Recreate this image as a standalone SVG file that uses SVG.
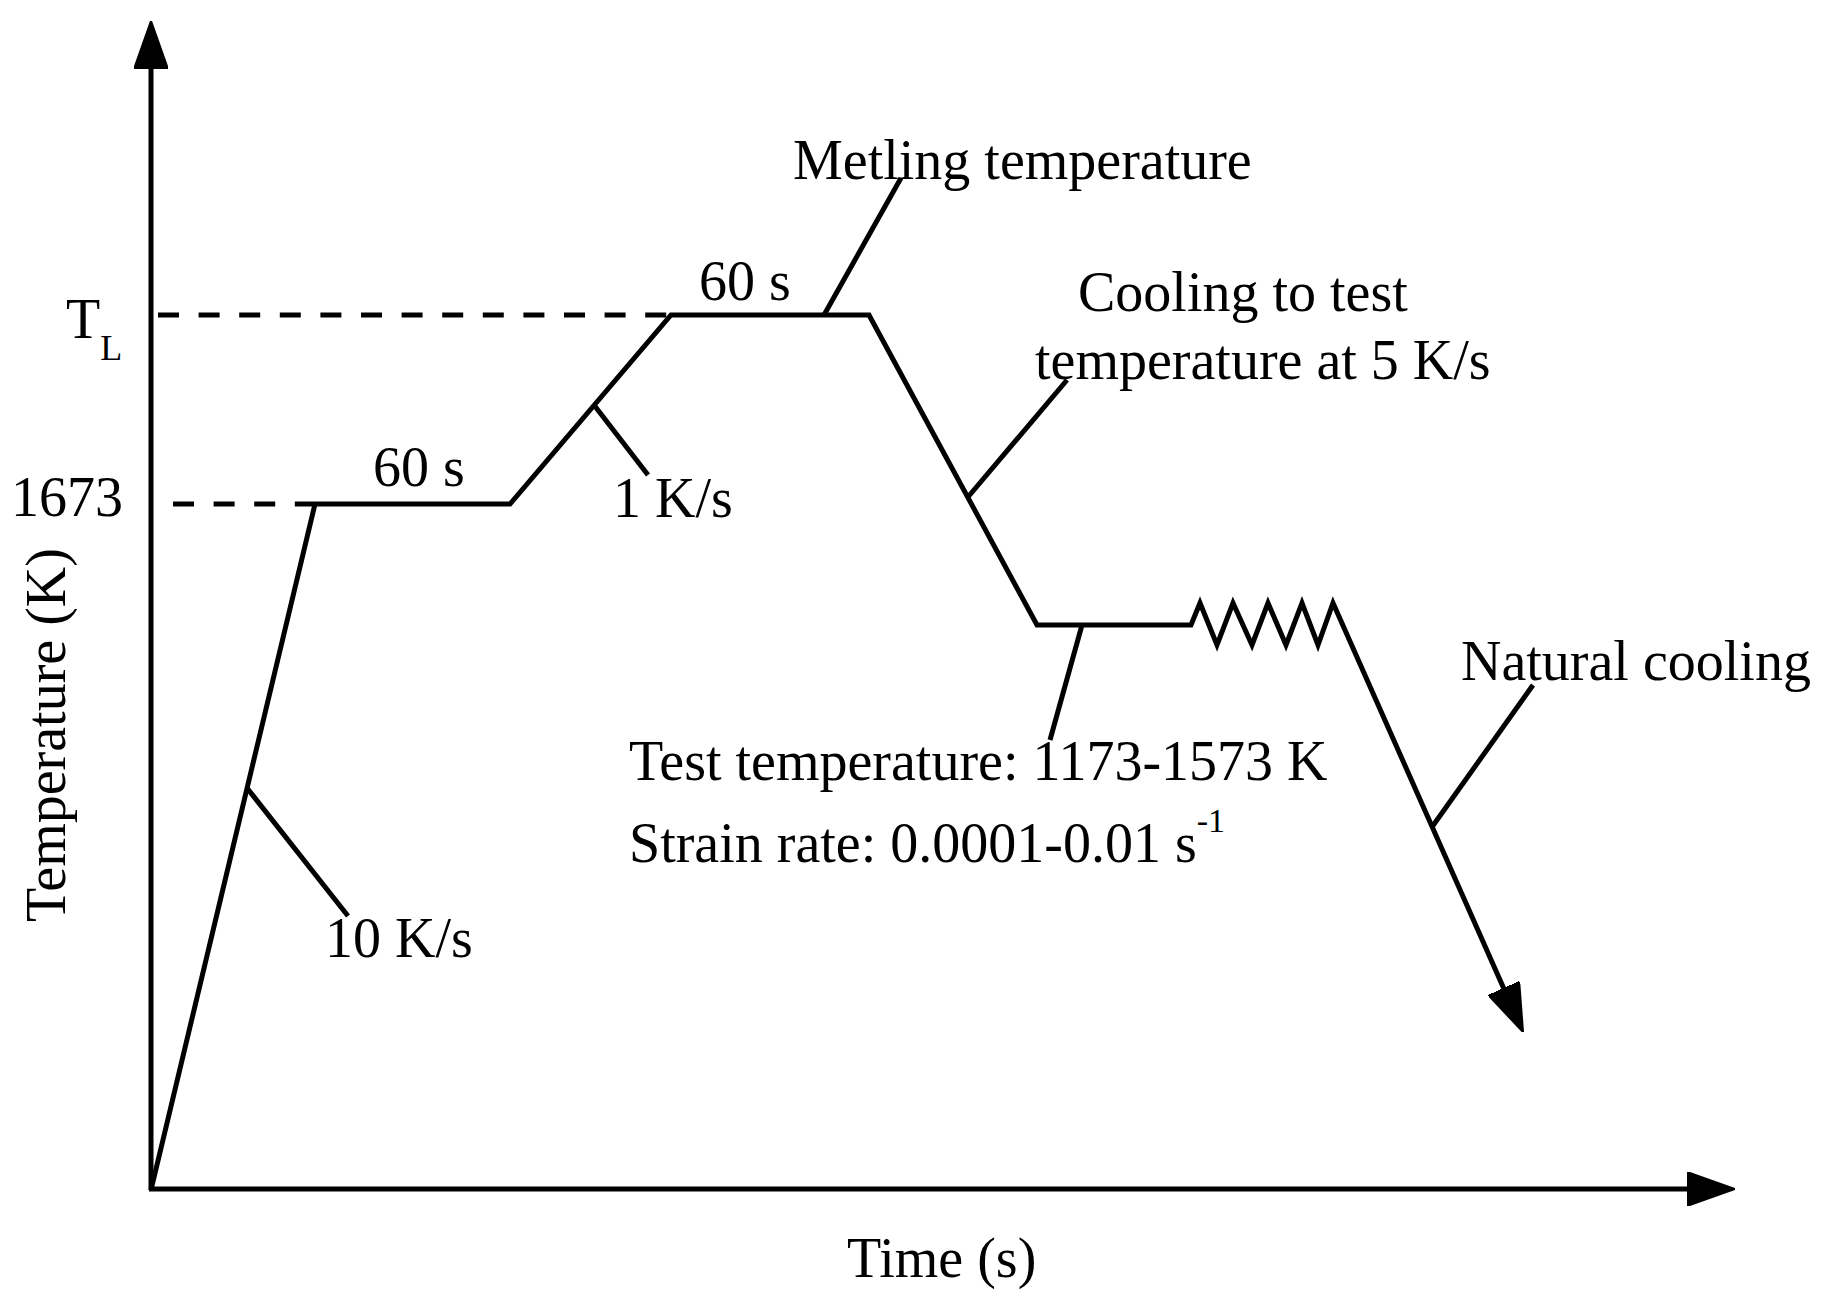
<svg xmlns="http://www.w3.org/2000/svg" width="1831" height="1315" viewBox="0 0 1831 1315">
<style>
  text { font-family: "Liberation Serif", "Times New Roman", serif; font-size: 56px; fill: #000; }
  .ln { fill: none; stroke: #000; stroke-width: 5; stroke-linejoin: miter; stroke-miterlimit: 10; }
  .dash { fill: none; stroke: #000; stroke-width: 5; stroke-dasharray: 21 19.6; }
</style>
<defs>
  <marker id="arr" markerUnits="userSpaceOnUse" viewBox="0 0 48 34" refX="1" refY="17" markerWidth="48" markerHeight="34" orient="auto">
    <path d="M0,0 L48,17 L0,34 Z" fill="#000" stroke="#000" stroke-width="2" stroke-linejoin="round"/>
  </marker>
</defs>
<rect width="1831" height="1315" fill="#fff"/>

<g id="axes">
  <line class="ln" x1="151" y1="1190" x2="151" y2="68" marker-end="url(#arr)"/>
  <line class="ln" x1="149" y1="1189" x2="1688" y2="1189" marker-end="url(#arr)"/>
</g>

<g id="reference-lines">
  <line class="dash" x1="158" y1="315" x2="671" y2="315"/>
  <line class="dash" x1="173" y1="504" x2="313" y2="504"/>
</g>

<g id="connectors">
  <polyline id="profile" class="ln" points="151,1190 315,504 510,504 671,315 869,315 1037,625 1191,625 1200,603 1217,645 1233,603 1252,645 1268,603 1286,645 1302,603 1318,645 1333,603 1504,989" marker-end="url(#arr)"/>
  <line class="ln" x1="247" y1="788" x2="348" y2="916"/>
  <line class="ln" x1="594" y1="405" x2="648" y2="475"/>
  <line class="ln" x1="824" y1="315" x2="901" y2="178"/>
  <line class="ln" x1="968" y1="497" x2="1067" y2="380"/>
  <line class="ln" x1="1082" y1="625" x2="1050" y2="740"/>
  <line class="ln" x1="1432" y1="827" x2="1533" y2="685"/>
</g>

<g id="labels">
  <g id="label-TL"><text x="66" y="338">T<tspan font-size="36" dy="22">L</tspan></text></g>
  <g id="label-1673"><text x="123" y="516" text-anchor="end">1673</text></g>
  <g id="label-y"><text transform="translate(65,922) rotate(-90)">Temperature (K)</text></g>
  <g id="label-x"><text x="847" y="1277">Time (s)</text></g>
  <g id="label-10Ks"><text x="325" y="957">10 K/s</text></g>
  <g id="label-60s-1"><text x="373" y="486">60 s</text></g>
  <g id="label-1Ks"><text x="613" y="517">1 K/s</text></g>
  <g id="label-60s-2"><text x="699" y="300">60 s</text></g>
  <g id="label-melting"><text x="793" y="179">Metling temperature</text></g>
  <g id="label-cooling"><text x="1078" y="311">Cooling to test</text><text x="1035" y="379">temperature at 5 K/s</text></g>
  <g id="label-test"><text x="629" y="780">Test temperature: 1173-1573 K</text><text x="629" y="862">Strain rate: 0.0001-0.01 s<tspan font-size="34" dy="-30">-1</tspan></text></g>
  <g id="label-natural"><text x="1461" y="680">Natural cooling</text></g>
</g>
</svg>
